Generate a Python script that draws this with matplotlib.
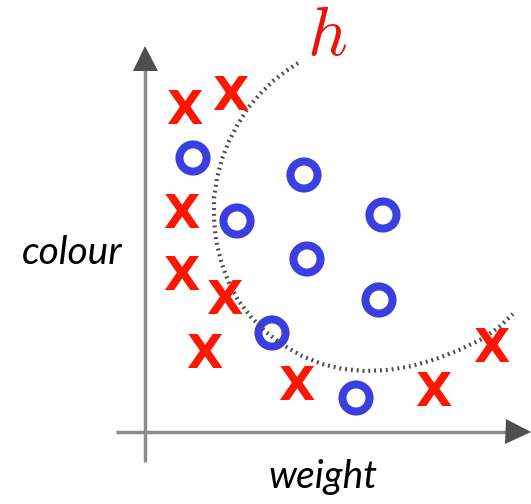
import matplotlib
matplotlib.use("Agg")
import matplotlib.pyplot as plt

plt.rcParams["mathtext.fontset"] = "cm"

# coordinates are in pixel units of the canvas (y grows downward)
cross_x = [184, 230, 181, 181, 224, 204, 296, 433, 491]
cross_y = [112, 98, 215, 277, 301, 356, 388, 394, 350]

ring_x = [193, 304, 237, 383, 307, 379, 272, 356]
ring_y = [158, 175, 221, 215, 259, 300, 333, 398]

# decision boundary h
curve_x = [298, 286, 273, 260, 248, 238, 229, 222, 217, 214, 214, 216, 221,
           228, 238, 251, 266, 283, 302, 322, 343, 365, 388, 412, 436, 459,
           480, 498, 513]
curve_y = [63, 71, 81, 94, 108, 124, 141, 159, 178, 198, 219, 240, 261,
           281, 300, 317, 332, 345, 356, 364, 369, 371, 370, 366, 359, 350,
           340, 328, 314]

W, H = 531, 504
fig = plt.figure(figsize=(W / 100, H / 100), dpi=100)
ax = fig.add_axes([0, 0, 1, 1])
ax.set_xlim(0, W)
ax.set_ylim(H, 0)
ax.axis("off")

# axes: grey shafts with dark triangular heads
ax.plot([145, 145], [462, 60], color="#8c8c8c", lw=2.5, solid_capstyle="butt")
ax.plot([116, 516], [432, 432], color="#8c8c8c", lw=2.5, solid_capstyle="butt")
ax.plot(145, 58, marker="^", ms=18, color="#4e4e4e", mew=0)
ax.plot(518, 432, marker=">", ms=18, color="#4e4e4e", mew=0)

ax.plot(curve_x, curve_y, color="#4a4a4a", lw=3.0, linestyle=(0, (0.45, 0.95)),
        dash_capstyle="butt")

for x, y in zip(cross_x, cross_y):
    ax.text(x, y, "X", color="#ff1500", fontsize=34, fontweight="bold",
            family="DejaVu Sans", ha="center", va="center")

ax.scatter(ring_x, ring_y, s=380, facecolors="none", edgecolors="#3c3fe0",
           linewidths=5.8)

ax.text(72, 253, "colour", fontsize=28, style="italic", family="Lato",
        ha="center", va="center")
ax.text(323, 477, "weight", fontsize=28, style="italic", family="Lato",
        ha="center", va="center")
ax.text(327, 36, "$h$", fontsize=50, color="#e8140c", ha="center", va="center")

fig.savefig("out.png", dpi=100)
